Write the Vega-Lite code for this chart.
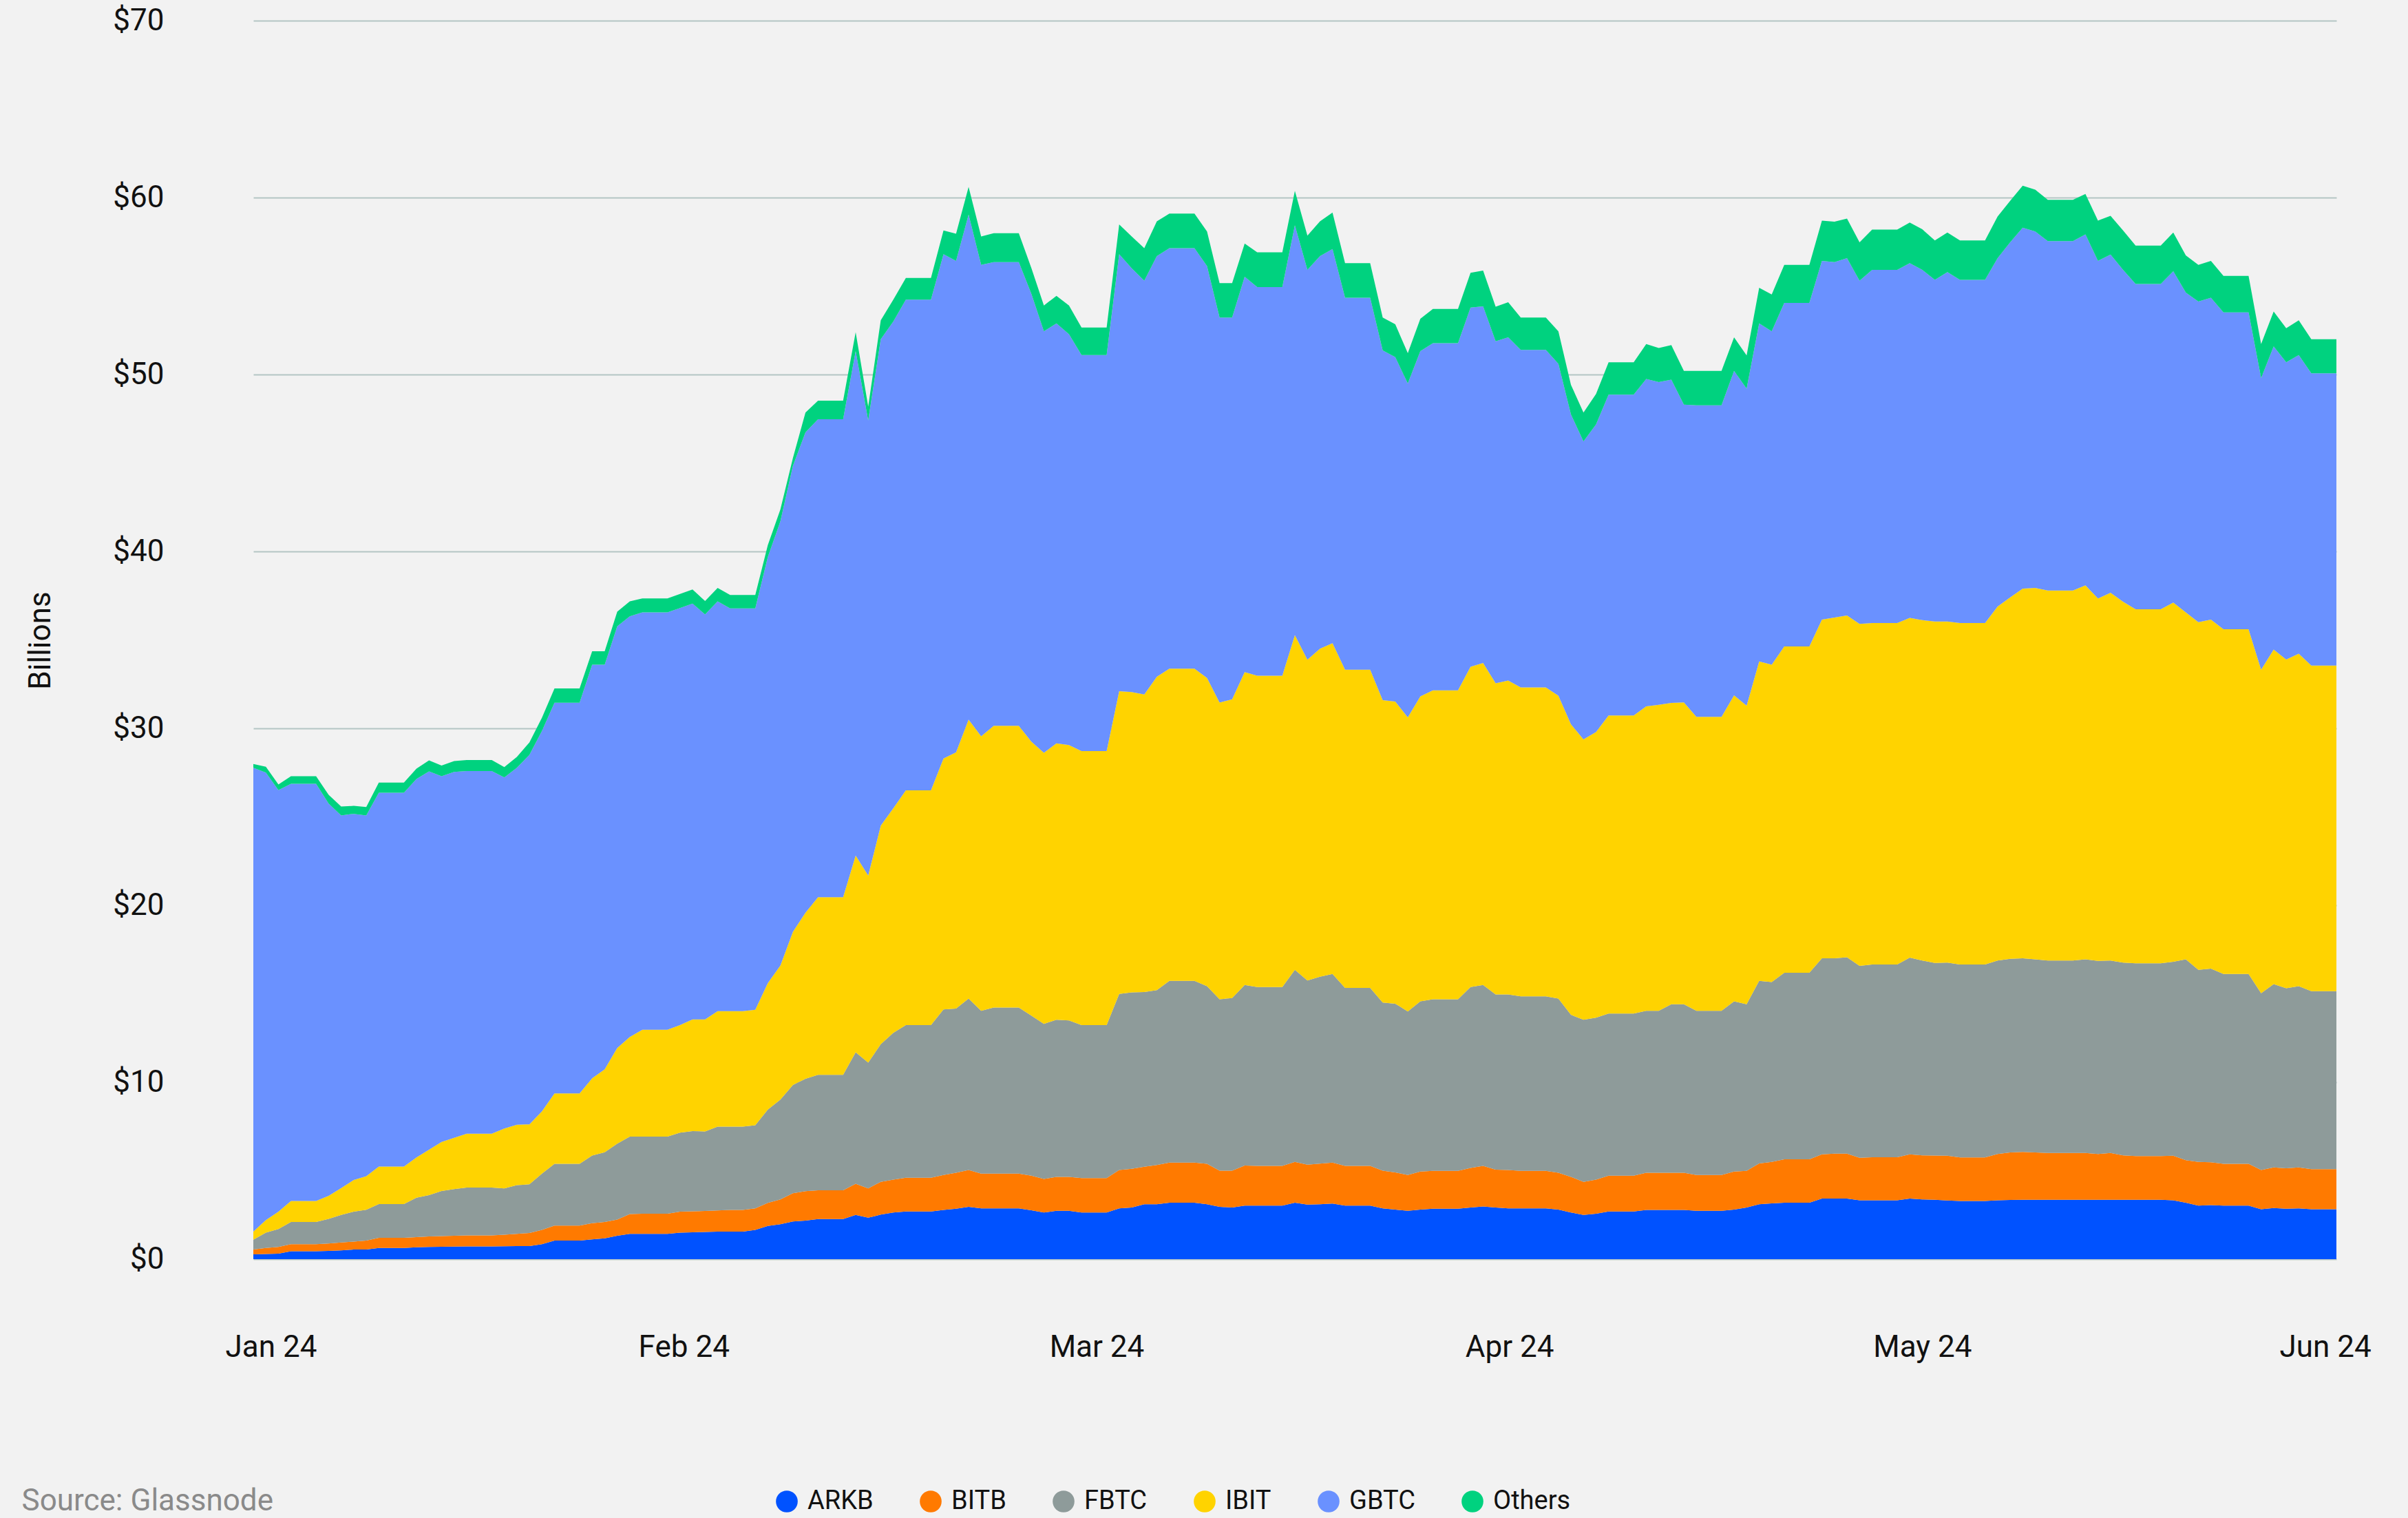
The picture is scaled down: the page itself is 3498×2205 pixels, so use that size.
{
  "$schema": "https://vega.github.io/schema/vega-lite/v6.json",
  "width": 3026,
  "height": 1799,
  "autosize": {"type": "none"},
  "padding": {"left": 368, "top": 30, "right": 104, "bottom": 376},
  "background": "#f2f2f2",
  "config": {
    "view": {"stroke": null},
    "font": "Roboto"
  },
  "datasets": {
    "stackorder": [
      {"key": "ARKB", "rank": 1},
      {"key": "BITB", "rank": 2},
      {"key": "FBTC", "rank": 3},
      {"key": "IBIT", "rank": 4},
      {"key": "GBTC", "rank": 5},
      {"key": "Others", "rank": 6}
    ],
    "holdings": [
      {"date":"2024-01-10","ARKB":0.27,"BITB":0.27,"FBTC":0.56,"IBIT":0.46,"GBTC":26.21,"Others":0.22},
      {"date":"2024-01-11","ARKB":0.29,"BITB":0.34,"FBTC":0.87,"IBIT":0.71,"GBTC":25.29,"Others":0.33},
      {"date":"2024-01-12","ARKB":0.31,"BITB":0.38,"FBTC":1.01,"IBIT":0.98,"GBTC":23.83,"Others":0.32},
      {"date":"2024-01-13","ARKB":0.45,"BITB":0.40,"FBTC":1.25,"IBIT":1.19,"GBTC":23.58,"Others":0.43},
      {"date":"2024-01-14","ARKB":0.45,"BITB":0.40,"FBTC":1.25,"IBIT":1.19,"GBTC":23.58,"Others":0.43},
      {"date":"2024-01-15","ARKB":0.45,"BITB":0.40,"FBTC":1.25,"IBIT":1.19,"GBTC":23.58,"Others":0.43},
      {"date":"2024-01-16","ARKB":0.47,"BITB":0.42,"FBTC":1.39,"IBIT":1.30,"GBTC":22.17,"Others":0.50},
      {"date":"2024-01-17","ARKB":0.50,"BITB":0.44,"FBTC":1.56,"IBIT":1.52,"GBTC":21.06,"Others":0.50},
      {"date":"2024-01-18","ARKB":0.54,"BITB":0.45,"FBTC":1.69,"IBIT":1.79,"GBTC":20.70,"Others":0.45},
      {"date":"2024-01-19","ARKB":0.54,"BITB":0.51,"FBTC":1.74,"IBIT":1.90,"GBTC":20.39,"Others":0.47},
      {"date":"2024-01-20","ARKB":0.63,"BITB":0.58,"FBTC":1.90,"IBIT":2.12,"GBTC":21.13,"Others":0.58},
      {"date":"2024-01-21","ARKB":0.63,"BITB":0.58,"FBTC":1.90,"IBIT":2.12,"GBTC":21.13,"Others":0.58},
      {"date":"2024-01-22","ARKB":0.63,"BITB":0.58,"FBTC":1.90,"IBIT":2.12,"GBTC":21.13,"Others":0.58},
      {"date":"2024-01-23","ARKB":0.67,"BITB":0.58,"FBTC":2.22,"IBIT":2.28,"GBTC":21.39,"Others":0.58},
      {"date":"2024-01-24","ARKB":0.69,"BITB":0.59,"FBTC":2.34,"IBIT":2.57,"GBTC":21.38,"Others":0.62},
      {"date":"2024-01-25","ARKB":0.70,"BITB":0.60,"FBTC":2.55,"IBIT":2.77,"GBTC":20.68,"Others":0.60},
      {"date":"2024-01-26","ARKB":0.71,"BITB":0.61,"FBTC":2.64,"IBIT":2.90,"GBTC":20.68,"Others":0.61},
      {"date":"2024-01-27","ARKB":0.72,"BITB":0.62,"FBTC":2.71,"IBIT":3.04,"GBTC":20.50,"Others":0.62},
      {"date":"2024-01-28","ARKB":0.72,"BITB":0.62,"FBTC":2.71,"IBIT":3.04,"GBTC":20.50,"Others":0.62},
      {"date":"2024-01-29","ARKB":0.72,"BITB":0.62,"FBTC":2.71,"IBIT":3.04,"GBTC":20.50,"Others":0.62},
      {"date":"2024-01-30","ARKB":0.73,"BITB":0.65,"FBTC":2.62,"IBIT":3.38,"GBTC":19.85,"Others":0.58},
      {"date":"2024-01-31","ARKB":0.74,"BITB":0.69,"FBTC":2.75,"IBIT":3.42,"GBTC":20.17,"Others":0.62},
      {"date":"2024-02-01","ARKB":0.74,"BITB":0.74,"FBTC":2.75,"IBIT":3.39,"GBTC":20.88,"Others":0.70},
      {"date":"2024-02-02","ARKB":0.85,"BITB":0.80,"FBTC":3.18,"IBIT":3.53,"GBTC":21.49,"Others":0.75},
      {"date":"2024-02-03","ARKB":1.05,"BITB":0.85,"FBTC":3.49,"IBIT":3.98,"GBTC":22.08,"Others":0.81},
      {"date":"2024-02-04","ARKB":1.05,"BITB":0.85,"FBTC":3.49,"IBIT":3.98,"GBTC":22.08,"Others":0.81},
      {"date":"2024-02-05","ARKB":1.05,"BITB":0.85,"FBTC":3.49,"IBIT":3.98,"GBTC":22.08,"Others":0.81},
      {"date":"2024-02-06","ARKB":1.12,"BITB":0.91,"FBTC":3.83,"IBIT":4.36,"GBTC":23.38,"Others":0.76},
      {"date":"2024-02-07","ARKB":1.18,"BITB":0.92,"FBTC":3.94,"IBIT":4.69,"GBTC":22.87,"Others":0.76},
      {"date":"2024-02-08","ARKB":1.32,"BITB":0.92,"FBTC":4.29,"IBIT":5.41,"GBTC":23.83,"Others":0.83},
      {"date":"2024-02-09","ARKB":1.43,"BITB":1.12,"FBTC":4.38,"IBIT":5.63,"GBTC":23.77,"Others":0.85},
      {"date":"2024-02-10","ARKB":1.43,"BITB":1.14,"FBTC":4.36,"IBIT":6.04,"GBTC":23.59,"Others":0.78},
      {"date":"2024-02-11","ARKB":1.43,"BITB":1.14,"FBTC":4.36,"IBIT":6.04,"GBTC":23.59,"Others":0.78},
      {"date":"2024-02-12","ARKB":1.43,"BITB":1.14,"FBTC":4.36,"IBIT":6.04,"GBTC":23.59,"Others":0.78},
      {"date":"2024-02-13","ARKB":1.50,"BITB":1.18,"FBTC":4.47,"IBIT":6.08,"GBTC":23.57,"Others":0.80},
      {"date":"2024-02-14","ARKB":1.52,"BITB":1.18,"FBTC":4.54,"IBIT":6.31,"GBTC":23.50,"Others":0.80},
      {"date":"2024-02-15","ARKB":1.54,"BITB":1.18,"FBTC":4.50,"IBIT":6.33,"GBTC":22.89,"Others":0.76},
      {"date":"2024-02-16","ARKB":1.56,"BITB":1.19,"FBTC":4.74,"IBIT":6.53,"GBTC":23.16,"Others":0.76},
      {"date":"2024-02-17","ARKB":1.56,"BITB":1.22,"FBTC":4.71,"IBIT":6.53,"GBTC":22.76,"Others":0.76},
      {"date":"2024-02-18","ARKB":1.56,"BITB":1.22,"FBTC":4.71,"IBIT":6.53,"GBTC":22.76,"Others":0.76},
      {"date":"2024-02-19","ARKB":1.65,"BITB":1.22,"FBTC":4.70,"IBIT":6.53,"GBTC":22.68,"Others":0.76},
      {"date":"2024-02-20","ARKB":1.88,"BITB":1.30,"FBTC":5.27,"IBIT":7.15,"GBTC":24.09,"Others":0.67},
      {"date":"2024-02-21","ARKB":1.97,"BITB":1.41,"FBTC":5.64,"IBIT":7.58,"GBTC":25.10,"Others":0.67},
      {"date":"2024-02-22","ARKB":2.13,"BITB":1.60,"FBTC":6.11,"IBIT":8.66,"GBTC":26.33,"Others":0.45},
      {"date":"2024-02-23","ARKB":2.18,"BITB":1.66,"FBTC":6.35,"IBIT":9.39,"GBTC":27.15,"Others":1.12},
      {"date":"2024-02-24","ARKB":2.27,"BITB":1.62,"FBTC":6.53,"IBIT":10.04,"GBTC":27.01,"Others":1.05},
      {"date":"2024-02-25","ARKB":2.27,"BITB":1.62,"FBTC":6.53,"IBIT":10.04,"GBTC":27.01,"Others":1.05},
      {"date":"2024-02-26","ARKB":2.27,"BITB":1.62,"FBTC":6.53,"IBIT":10.04,"GBTC":27.01,"Others":1.05},
      {"date":"2024-02-27","ARKB":2.50,"BITB":1.76,"FBTC":7.43,"IBIT":11.12,"GBTC":28.51,"Others":1.07},
      {"date":"2024-02-28","ARKB":2.34,"BITB":1.66,"FBTC":7.11,"IBIT":10.57,"GBTC":25.72,"Others":0.79},
      {"date":"2024-02-29","ARKB":2.52,"BITB":1.85,"FBTC":7.78,"IBIT":12.35,"GBTC":27.49,"Others":1.07},
      {"date":"2024-03-01","ARKB":2.64,"BITB":1.85,"FBTC":8.30,"IBIT":12.70,"GBTC":27.51,"Others":1.23},
      {"date":"2024-03-02","ARKB":2.69,"BITB":1.91,"FBTC":8.63,"IBIT":13.27,"GBTC":27.73,"Others":1.23},
      {"date":"2024-03-03","ARKB":2.69,"BITB":1.91,"FBTC":8.63,"IBIT":13.27,"GBTC":27.73,"Others":1.23},
      {"date":"2024-03-04","ARKB":2.69,"BITB":1.91,"FBTC":8.63,"IBIT":13.27,"GBTC":27.73,"Others":1.23},
      {"date":"2024-03-05","ARKB":2.78,"BITB":1.98,"FBTC":9.35,"IBIT":14.19,"GBTC":28.50,"Others":1.34},
      {"date":"2024-03-06","ARKB":2.85,"BITB":2.03,"FBTC":9.28,"IBIT":14.49,"GBTC":27.77,"Others":1.54},
      {"date":"2024-03-07","ARKB":2.96,"BITB":2.08,"FBTC":9.69,"IBIT":15.77,"GBTC":28.54,"Others":1.56},
      {"date":"2024-03-08","ARKB":2.87,"BITB":1.96,"FBTC":9.21,"IBIT":15.51,"GBTC":26.65,"Others":1.60},
      {"date":"2024-03-09","ARKB":2.87,"BITB":1.96,"FBTC":9.39,"IBIT":15.93,"GBTC":26.20,"Others":1.64},
      {"date":"2024-03-10","ARKB":2.87,"BITB":1.96,"FBTC":9.39,"IBIT":15.93,"GBTC":26.20,"Others":1.64},
      {"date":"2024-03-11","ARKB":2.87,"BITB":1.96,"FBTC":9.39,"IBIT":15.93,"GBTC":26.20,"Others":1.64},
      {"date":"2024-03-12","ARKB":2.76,"BITB":1.96,"FBTC":9.04,"IBIT":15.49,"GBTC":25.31,"Others":1.46},
      {"date":"2024-03-13","ARKB":2.64,"BITB":1.89,"FBTC":8.77,"IBIT":15.32,"GBTC":23.82,"Others":1.46},
      {"date":"2024-03-14","ARKB":2.73,"BITB":1.92,"FBTC":8.88,"IBIT":15.62,"GBTC":23.74,"Others":1.56},
      {"date":"2024-03-15","ARKB":2.73,"BITB":1.92,"FBTC":8.84,"IBIT":15.57,"GBTC":23.22,"Others":1.62},
      {"date":"2024-03-16","ARKB":2.64,"BITB":1.94,"FBTC":8.65,"IBIT":15.49,"GBTC":22.38,"Others":1.56},
      {"date":"2024-03-17","ARKB":2.64,"BITB":1.94,"FBTC":8.65,"IBIT":15.49,"GBTC":22.38,"Others":1.56},
      {"date":"2024-03-18","ARKB":2.64,"BITB":1.94,"FBTC":8.65,"IBIT":15.49,"GBTC":22.38,"Others":1.56},
      {"date":"2024-03-19","ARKB":2.87,"BITB":2.17,"FBTC":9.95,"IBIT":17.11,"GBTC":24.70,"Others":1.68},
      {"date":"2024-03-20","ARKB":2.92,"BITB":2.19,"FBTC":9.97,"IBIT":16.97,"GBTC":23.95,"Others":1.80},
      {"date":"2024-03-21","ARKB":3.10,"BITB":2.12,"FBTC":9.88,"IBIT":16.82,"GBTC":23.38,"Others":1.84},
      {"date":"2024-03-22","ARKB":3.10,"BITB":2.22,"FBTC":9.88,"IBIT":17.72,"GBTC":23.77,"Others":1.97},
      {"date":"2024-03-23","ARKB":3.19,"BITB":2.27,"FBTC":10.27,"IBIT":17.65,"GBTC":23.76,"Others":1.96},
      {"date":"2024-03-24","ARKB":3.19,"BITB":2.27,"FBTC":10.27,"IBIT":17.65,"GBTC":23.76,"Others":1.96},
      {"date":"2024-03-25","ARKB":3.19,"BITB":2.27,"FBTC":10.27,"IBIT":17.65,"GBTC":23.76,"Others":1.96},
      {"date":"2024-03-26","ARKB":3.10,"BITB":2.29,"FBTC":10.04,"IBIT":17.42,"GBTC":23.28,"Others":1.95},
      {"date":"2024-03-27","ARKB":2.96,"BITB":2.04,"FBTC":9.69,"IBIT":16.77,"GBTC":21.76,"Others":1.95},
      {"date":"2024-03-28","ARKB":2.92,"BITB":2.08,"FBTC":9.76,"IBIT":16.88,"GBTC":21.58,"Others":1.95},
      {"date":"2024-03-29","ARKB":3.03,"BITB":2.26,"FBTC":10.21,"IBIT":17.68,"GBTC":22.35,"Others":1.87},
      {"date":"2024-03-30","ARKB":3.03,"BITB":2.24,"FBTC":10.11,"IBIT":17.60,"GBTC":21.96,"Others":1.97},
      {"date":"2024-03-31","ARKB":3.03,"BITB":2.24,"FBTC":10.11,"IBIT":17.60,"GBTC":21.96,"Others":1.97},
      {"date":"2024-04-01","ARKB":3.03,"BITB":2.24,"FBTC":10.11,"IBIT":17.60,"GBTC":21.96,"Others":1.97},
      {"date":"2024-04-02","ARKB":3.19,"BITB":2.31,"FBTC":10.85,"IBIT":18.92,"GBTC":23.16,"Others":1.95},
      {"date":"2024-04-03","ARKB":3.08,"BITB":2.26,"FBTC":10.41,"IBIT":18.13,"GBTC":22.03,"Others":1.94},
      {"date":"2024-04-04","ARKB":3.10,"BITB":2.30,"FBTC":10.56,"IBIT":18.54,"GBTC":22.19,"Others":1.97},
      {"date":"2024-04-05","ARKB":3.14,"BITB":2.32,"FBTC":10.66,"IBIT":18.70,"GBTC":22.27,"Others":2.06},
      {"date":"2024-04-06","ARKB":3.03,"BITB":2.24,"FBTC":10.06,"IBIT":17.99,"GBTC":21.02,"Others":1.95},
      {"date":"2024-04-07","ARKB":3.03,"BITB":2.24,"FBTC":10.06,"IBIT":17.99,"GBTC":21.02,"Others":1.95},
      {"date":"2024-04-08","ARKB":3.03,"BITB":2.24,"FBTC":10.06,"IBIT":17.99,"GBTC":21.02,"Others":1.95},
      {"date":"2024-04-09","ARKB":2.87,"BITB":2.13,"FBTC":9.50,"IBIT":17.10,"GBTC":19.76,"Others":1.86},
      {"date":"2024-04-10","ARKB":2.80,"BITB":2.10,"FBTC":9.54,"IBIT":17.08,"GBTC":19.46,"Others":1.86},
      {"date":"2024-04-11","ARKB":2.73,"BITB":2.03,"FBTC":9.24,"IBIT":16.62,"GBTC":18.87,"Others":1.72},
      {"date":"2024-04-12","ARKB":2.80,"BITB":2.15,"FBTC":9.62,"IBIT":17.24,"GBTC":19.51,"Others":1.83},
      {"date":"2024-04-13","ARKB":2.85,"BITB":2.14,"FBTC":9.70,"IBIT":17.46,"GBTC":19.62,"Others":1.94},
      {"date":"2024-04-14","ARKB":2.85,"BITB":2.14,"FBTC":9.70,"IBIT":17.46,"GBTC":19.62,"Others":1.94},
      {"date":"2024-04-15","ARKB":2.85,"BITB":2.14,"FBTC":9.70,"IBIT":17.46,"GBTC":19.62,"Others":1.94},
      {"date":"2024-04-16","ARKB":2.92,"BITB":2.24,"FBTC":10.22,"IBIT":18.10,"GBTC":20.30,"Others":1.97},
      {"date":"2024-04-17","ARKB":2.98,"BITB":2.29,"FBTC":10.23,"IBIT":18.20,"GBTC":20.15,"Others":2.03},
      {"date":"2024-04-18","ARKB":2.92,"BITB":2.14,"FBTC":9.90,"IBIT":17.59,"GBTC":19.33,"Others":1.95},
      {"date":"2024-04-19","ARKB":2.87,"BITB":2.17,"FBTC":9.92,"IBIT":17.74,"GBTC":19.40,"Others":1.99},
      {"date":"2024-04-20","ARKB":2.87,"BITB":2.12,"FBTC":9.86,"IBIT":17.47,"GBTC":19.07,"Others":1.83},
      {"date":"2024-04-21","ARKB":2.87,"BITB":2.12,"FBTC":9.86,"IBIT":17.47,"GBTC":19.07,"Others":1.83},
      {"date":"2024-04-22","ARKB":2.87,"BITB":2.12,"FBTC":9.86,"IBIT":17.47,"GBTC":19.07,"Others":1.83},
      {"date":"2024-04-23","ARKB":2.80,"BITB":2.08,"FBTC":9.85,"IBIT":17.12,"GBTC":18.75,"Others":1.84},
      {"date":"2024-04-24","ARKB":2.64,"BITB":2.01,"FBTC":9.16,"IBIT":16.42,"GBTC":17.51,"Others":1.68},
      {"date":"2024-04-25","ARKB":2.50,"BITB":1.87,"FBTC":9.16,"IBIT":15.85,"GBTC":16.84,"Others":1.63},
      {"date":"2024-04-26","ARKB":2.57,"BITB":1.92,"FBTC":9.16,"IBIT":16.15,"GBTC":17.38,"Others":1.72},
      {"date":"2024-04-27","ARKB":2.69,"BITB":2.03,"FBTC":9.16,"IBIT":16.85,"GBTC":18.13,"Others":1.83},
      {"date":"2024-04-28","ARKB":2.69,"BITB":2.03,"FBTC":9.16,"IBIT":16.85,"GBTC":18.13,"Others":1.83},
      {"date":"2024-04-29","ARKB":2.69,"BITB":2.03,"FBTC":9.16,"IBIT":16.85,"GBTC":18.13,"Others":1.83},
      {"date":"2024-04-30","ARKB":2.78,"BITB":2.10,"FBTC":9.16,"IBIT":17.21,"GBTC":18.50,"Others":1.97},
      {"date":"2024-05-01","ARKB":2.78,"BITB":2.10,"FBTC":9.16,"IBIT":17.29,"GBTC":18.24,"Others":1.93},
      {"date":"2024-05-02","ARKB":2.78,"BITB":2.10,"FBTC":9.53,"IBIT":17.03,"GBTC":18.27,"Others":1.95},
      {"date":"2024-05-03","ARKB":2.78,"BITB":2.10,"FBTC":9.53,"IBIT":17.06,"GBTC":16.83,"Others":1.90},
      {"date":"2024-05-04","ARKB":2.73,"BITB":2.03,"FBTC":9.28,"IBIT":16.61,"GBTC":17.61,"Others":1.94},
      {"date":"2024-05-05","ARKB":2.73,"BITB":2.03,"FBTC":9.28,"IBIT":16.61,"GBTC":17.61,"Others":1.94},
      {"date":"2024-05-06","ARKB":2.73,"BITB":2.03,"FBTC":9.28,"IBIT":16.61,"GBTC":17.61,"Others":1.94},
      {"date":"2024-05-07","ARKB":2.80,"BITB":2.15,"FBTC":9.62,"IBIT":17.30,"GBTC":18.33,"Others":1.90},
      {"date":"2024-05-08","ARKB":2.92,"BITB":2.07,"FBTC":9.42,"IBIT":16.87,"GBTC":17.92,"Others":1.88},
      {"date":"2024-05-09","ARKB":3.10,"BITB":2.31,"FBTC":10.32,"IBIT":18.05,"GBTC":19.11,"Others":2.01},
      {"date":"2024-05-10","ARKB":3.15,"BITB":2.35,"FBTC":10.16,"IBIT":17.94,"GBTC":18.84,"Others":2.08},
      {"date":"2024-05-11","ARKB":3.19,"BITB":2.45,"FBTC":10.55,"IBIT":18.44,"GBTC":19.42,"Others":2.15},
      {"date":"2024-05-12","ARKB":3.19,"BITB":2.45,"FBTC":10.55,"IBIT":18.44,"GBTC":19.42,"Others":2.15},
      {"date":"2024-05-13","ARKB":3.19,"BITB":2.45,"FBTC":10.55,"IBIT":18.44,"GBTC":19.42,"Others":2.15},
      {"date":"2024-05-14","ARKB":3.42,"BITB":2.50,"FBTC":11.08,"IBIT":19.15,"GBTC":20.27,"Others":2.28},
      {"date":"2024-05-15","ARKB":3.42,"BITB":2.54,"FBTC":11.04,"IBIT":19.26,"GBTC":20.09,"Others":2.29},
      {"date":"2024-05-16","ARKB":3.42,"BITB":2.54,"FBTC":11.10,"IBIT":19.32,"GBTC":20.20,"Others":2.23},
      {"date":"2024-05-17","ARKB":3.33,"BITB":2.40,"FBTC":10.85,"IBIT":19.32,"GBTC":19.40,"Others":2.17},
      {"date":"2024-05-18","ARKB":3.33,"BITB":2.43,"FBTC":10.89,"IBIT":19.30,"GBTC":19.96,"Others":2.28},
      {"date":"2024-05-19","ARKB":3.33,"BITB":2.43,"FBTC":10.89,"IBIT":19.30,"GBTC":19.96,"Others":2.28},
      {"date":"2024-05-20","ARKB":3.33,"BITB":2.43,"FBTC":10.89,"IBIT":19.30,"GBTC":19.96,"Others":2.28},
      {"date":"2024-05-21","ARKB":3.42,"BITB":2.50,"FBTC":11.12,"IBIT":19.21,"GBTC":20.04,"Others":2.30},
      {"date":"2024-05-22","ARKB":3.38,"BITB":2.49,"FBTC":11.01,"IBIT":19.24,"GBTC":19.79,"Others":2.30},
      {"date":"2024-05-23","ARKB":3.36,"BITB":2.50,"FBTC":10.88,"IBIT":19.30,"GBTC":19.31,"Others":2.23},
      {"date":"2024-05-24","ARKB":3.32,"BITB":2.53,"FBTC":10.91,"IBIT":19.28,"GBTC":19.75,"Others":2.24},
      {"date":"2024-05-25","ARKB":3.29,"BITB":2.46,"FBTC":10.90,"IBIT":19.30,"GBTC":19.40,"Others":2.23},
      {"date":"2024-05-26","ARKB":3.29,"BITB":2.46,"FBTC":10.90,"IBIT":19.30,"GBTC":19.40,"Others":2.23},
      {"date":"2024-05-27","ARKB":3.29,"BITB":2.46,"FBTC":10.90,"IBIT":19.30,"GBTC":19.40,"Others":2.23},
      {"date":"2024-05-28","ARKB":3.33,"BITB":2.61,"FBTC":10.94,"IBIT":20.01,"GBTC":19.69,"Others":2.35},
      {"date":"2024-05-29","ARKB":3.35,"BITB":2.68,"FBTC":10.94,"IBIT":20.43,"GBTC":20.07,"Others":2.35},
      {"date":"2024-05-30","ARKB":3.36,"BITB":2.70,"FBTC":10.94,"IBIT":20.90,"GBTC":20.40,"Others":2.37},
      {"date":"2024-05-31","ARKB":3.36,"BITB":2.67,"FBTC":10.92,"IBIT":20.99,"GBTC":20.14,"Others":2.37},
      {"date":"2024-06-01","ARKB":3.36,"BITB":2.64,"FBTC":10.88,"IBIT":20.91,"GBTC":19.75,"Others":2.33},
      {"date":"2024-06-02","ARKB":3.36,"BITB":2.64,"FBTC":10.88,"IBIT":20.91,"GBTC":19.75,"Others":2.33},
      {"date":"2024-06-03","ARKB":3.36,"BITB":2.64,"FBTC":10.88,"IBIT":20.91,"GBTC":19.75,"Others":2.33},
      {"date":"2024-06-04","ARKB":3.36,"BITB":2.64,"FBTC":10.95,"IBIT":21.13,"GBTC":19.84,"Others":2.28},
      {"date":"2024-06-05","ARKB":3.36,"BITB":2.58,"FBTC":10.92,"IBIT":20.48,"GBTC":19.08,"Others":2.28},
      {"date":"2024-06-06","ARKB":3.36,"BITB":2.64,"FBTC":10.88,"IBIT":20.79,"GBTC":19.11,"Others":2.19},
      {"date":"2024-06-07","ARKB":3.36,"BITB":2.51,"FBTC":10.89,"IBIT":20.40,"GBTC":18.75,"Others":2.23},
      {"date":"2024-06-08","ARKB":3.36,"BITB":2.47,"FBTC":10.89,"IBIT":20.01,"GBTC":18.39,"Others":2.17},
      {"date":"2024-06-09","ARKB":3.36,"BITB":2.47,"FBTC":10.89,"IBIT":20.01,"GBTC":18.39,"Others":2.17},
      {"date":"2024-06-10","ARKB":3.36,"BITB":2.47,"FBTC":10.89,"IBIT":20.01,"GBTC":18.39,"Others":2.17},
      {"date":"2024-06-11","ARKB":3.33,"BITB":2.52,"FBTC":10.96,"IBIT":20.30,"GBTC":18.73,"Others":2.19},
      {"date":"2024-06-12","ARKB":3.19,"BITB":2.40,"FBTC":11.36,"IBIT":19.61,"GBTC":18.07,"Others":2.10},
      {"date":"2024-06-13","ARKB":3.03,"BITB":2.47,"FBTC":10.85,"IBIT":19.65,"GBTC":18.12,"Others":2.08},
      {"date":"2024-06-14","ARKB":3.05,"BITB":2.43,"FBTC":10.94,"IBIT":19.73,"GBTC":18.19,"Others":2.08},
      {"date":"2024-06-15","ARKB":3.03,"BITB":2.36,"FBTC":10.73,"IBIT":19.48,"GBTC":17.91,"Others":2.06},
      {"date":"2024-06-16","ARKB":3.03,"BITB":2.36,"FBTC":10.73,"IBIT":19.48,"GBTC":17.91,"Others":2.06},
      {"date":"2024-06-17","ARKB":3.03,"BITB":2.36,"FBTC":10.73,"IBIT":19.48,"GBTC":17.91,"Others":2.06},
      {"date":"2024-06-18","ARKB":2.82,"BITB":2.22,"FBTC":9.99,"IBIT":18.29,"GBTC":16.48,"Others":1.92},
      {"date":"2024-06-19","ARKB":2.89,"BITB":2.29,"FBTC":10.36,"IBIT":18.92,"GBTC":17.13,"Others":1.97},
      {"date":"2024-06-20","ARKB":2.85,"BITB":2.29,"FBTC":10.17,"IBIT":18.58,"GBTC":16.80,"Others":1.93},
      {"date":"2024-06-21","ARKB":2.87,"BITB":2.31,"FBTC":10.25,"IBIT":18.79,"GBTC":16.88,"Others":1.96},
      {"date":"2024-06-22","ARKB":2.82,"BITB":2.27,"FBTC":10.06,"IBIT":18.40,"GBTC":16.52,"Others":1.92},
      {"date":"2024-06-23","ARKB":2.82,"BITB":2.27,"FBTC":10.06,"IBIT":18.40,"GBTC":16.52,"Others":1.92},
      {"date":"2024-06-24","ARKB":2.82,"BITB":2.27,"FBTC":10.06,"IBIT":18.40,"GBTC":16.52,"Others":1.92}
    ]
  },
  "data": {"name": "holdings"},
  "transform": [
    {"fold": ["ARKB", "BITB", "FBTC", "IBIT", "GBTC", "Others"], "as": ["fund", "value"]},
    {"lookup": "fund", "from": {"data": {"name": "stackorder"}, "key": "key", "fields": ["rank"]}}
  ],
  "mark": {"type": "area", "interpolate": "linear", "strokeWidth": 0},
  "encoding": {
    "x": {
      "field": "date",
      "type": "temporal",
      "scale": {"type": "utc", "nice": false},
      "axis": {
        "values": [
          {"year": 2024, "month": 1, "date": 11, "hours": 9, "minutes": 36, "utc": true},
          {"year": 2024, "month": 2, "date": 13, "hours": 7, "minutes": 12, "utc": true},
          {"year": 2024, "month": 3, "date": 17, "hours": 4, "minutes": 48, "utc": true},
          {"year": 2024, "month": 4, "date": 19, "hours": 2, "minutes": 24, "utc": true},
          {"year": 2024, "month": 5, "date": 22, "utc": true},
          {"year": 2024, "month": 6, "date": 23, "hours": 2, "minutes": 24, "utc": true}
        ],
        "labelExpr": "utcFormat(datum.value, '%b %y')",
        "labelFontSize": 44,
        "labelColor": "#111111",
        "labelPadding": 106,
        "labelFlush": false,
        "labelOverlap": false,
        "labelBound": false,
        "ticks": false,
        "domain": false,
        "grid": false,
        "title": "Source: Glassnode",
        "titleFontSize": 44,
        "titleFontWeight": "normal",
        "titleColor": "#8a8a8a",
        "titleX": -337,
        "titleY": 364,
        "titleAlign": "left",
        "titleAnchor": null,
        "titleBaseline": "alphabetic"
      }
    },
    "y": {
      "field": "value",
      "type": "quantitative",
      "stack": "zero",
      "scale": {"domain": [0, 70], "nice": false},
      "axis": {
        "values": [0, 10, 20, 30, 40, 50, 60, 70],
        "format": "$d",
        "labelFontSize": 44,
        "labelColor": "#111111",
        "labelPadding": 130,
        "ticks": false,
        "domain": false,
        "grid": true,
        "gridColor": "#b4c5c4",
        "gridWidth": 2,
        "title": "Billions",
        "titleFontSize": 44,
        "titleFontWeight": "normal",
        "titleColor": "#111111",
        "titleX": -309,
        "titleY": 900,
        "titleAngle": -90,
        "titleAlign": "center",
        "titleBaseline": "middle"
      }
    },
    "color": {
      "field": "fund",
      "type": "nominal",
      "scale": {
        "domain": ["ARKB", "BITB", "FBTC", "IBIT", "GBTC", "Others"],
        "range": ["#0052ff", "#ff7a00", "#8e9b9a", "#ffd300", "#6a91ff", "#00d27f"]
      },
      "legend": {
        "title": null,
        "orient": "none",
        "direction": "horizontal",
        "legendX": 756,
        "legendY": 2132,
        "symbolType": "circle",
        "symbolSize": 1000,
        "symbolStrokeWidth": 0,
        "labelFontSize": 38,
        "labelColor": "#111111",
        "labelOffset": 11,
        "columnPadding": 64,
        "padding": 0
      }
    },
    "order": {"field": "rank", "type": "quantitative", "sort": "ascending"}
  }
}
